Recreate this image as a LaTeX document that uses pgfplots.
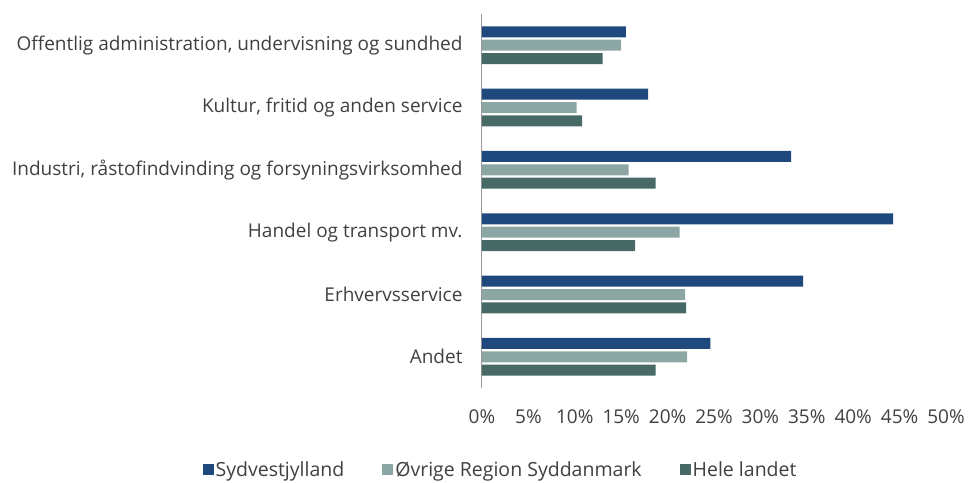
\documentclass[border=0pt]{standalone}
\usepackage{fontspec}
\setmainfont{Open Sans}
\usepackage{pgfplots}
\pgfplotsset{compat=1.18}
\definecolor{cSyd}{HTML}{1F497D}
\definecolor{cOvr}{HTML}{8CA6A3}
\definecolor{cHele}{HTML}{476A66}
\definecolor{txt}{HTML}{404040}
\begin{document}
\begin{tikzpicture}
\begin{axis}[
  scale only axis,
  width=464pt, height=374pt,
  xmin=0, xmax=50,
  ymin=-0.5, ymax=5.5,
  xbar, bar width=11pt,
  axis lines=left,
  x axis line style={draw=none},
  y axis line style={draw=gray!80, line width=1pt, -},
  major tick length=0pt,
  xtick={0,5,...,50},
  xticklabel={\pgfmathprintnumber{\tick}\%},
  /pgf/number format/assume math mode=true,
  xticklabel style={font=\fontsize{19}{22}\selectfont, text=txt, yshift=-18pt},
  ytick={0,1,2,3,4,5},
  yticklabels={Andet, Erhvervsservice, Handel og transport mv., {Industri, råstofindvinding og forsyningsvirksomhed}, {Kultur, fritid og anden service}, {Offentlig administration, undervisning og sundhed}},
  yticklabel style={font=\fontsize{19}{22}\selectfont, text=txt, xshift=-16pt},
  legend columns=3,
  legend style={at={(0.04,-0.219)}, anchor=center, draw=none, font=\fontsize{19.5}{22}\selectfont, text=txt,
    /tikz/every even column/.append style={column sep=36pt}},
  legend image code/.code={\fill[#1] (0pt,-5.5pt) rectangle (11pt,5.5pt);},
]
\addplot[fill=cSyd, draw=none, bar shift=13.4pt] coordinates {(24.6,0) (34.6,1) (44.3,2) (33.3,3) (17.9,4) (15.5,5)};
\addplot[fill=cOvr, draw=none, bar shift=0pt] coordinates {(22.1,0) (21.9,1) (21.3,2) (15.8,3) (10.2,4) (15.0,5)};
\addplot[fill=cHele, draw=none, bar shift=-13.4pt] coordinates {(18.7,0) (22.0,1) (16.5,2) (18.7,3) (10.8,4) (13.0,5)};
\legend{Sydvestjylland, Øvrige Region Syddanmark, Hele landet}
\end{axis}
\pgfresetboundingbox
\path (current axis.south west) ++(-482pt,-94pt) rectangle ++(968pt,482pt);
\end{tikzpicture}
\end{document}
